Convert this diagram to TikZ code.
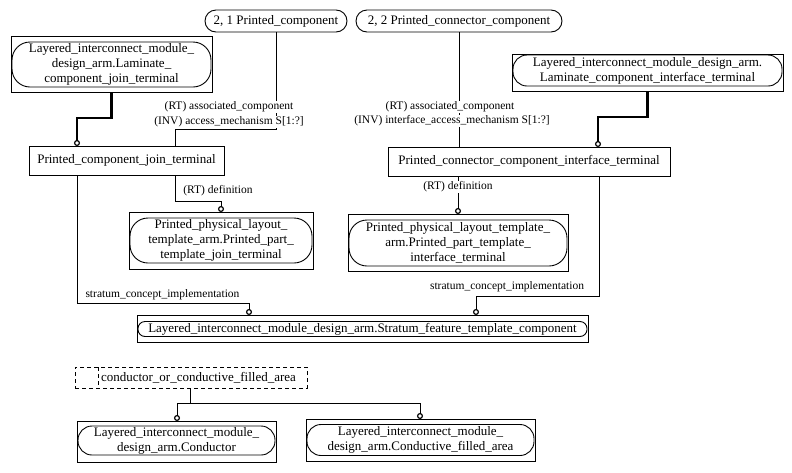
\documentclass[tikz,border=0pt]{standalone}
\usepackage{fontspec}
\setmainfont{Liberation Serif}
\usetikzlibrary{arrows.meta}
\begin{document}
\begin{tikzpicture}[x=1pt,y=-1pt,
  every node/.style={inner sep=0pt, outer sep=0pt},
  outerbox/.style={draw, line width=0.9pt},
  pill/.style={draw, line width=0.9pt, rounded corners=#1, align=center, font=\fontsize{13}{15}\selectfont},
  pill/.default=11pt,
  plainbox/.style={draw, line width=0.9pt, align=center, font=\fontsize{13}{15}\selectfont},
  lbl/.style={fill=white, inner sep=0.5pt, font=\fontsize{11.5}{13}\selectfont},
  conn/.style={line width=0.9pt},
  heavy/.style={line width=2.5pt},
  circ/.style={-{Circle[open,length=6pt,line width=1.2pt]}},
  dashpat/.style={dash pattern=on 4pt off 3pt},
]
\useasboundingbox (0,0) rectangle (792,472);

% top simple pills
\node[pill, minimum width=142, minimum height=22] (pc) at (276,21) {2, 1 Printed\_component};
\node[pill, minimum width=206, minimum height=22] (pcc) at (459,21) {2, 2 Printed\_connector\_component};

% top-left
\node[outerbox, minimum width=201, minimum height=56] (ltl) at (111.5,64) {};
\node[pill=18pt, minimum width=199, minimum height=45] (ltlp) at (111.5,64.5) {Layered\_interconnect\_module\_\\design\_arm.Laminate\_\\component\_join\_terminal};

% top-right
\node[outerbox, minimum width=271, minimum height=37] (ltr) at (647.5,72.5) {};
\node[pill=14pt, minimum width=269, minimum height=31] (ltrp) at (647.5,70.5) {Layered\_interconnect\_module\_design\_arm.\\Laminate\_component\_interface\_terminal};

% middle boxes
\node[plainbox, minimum width=195, minimum height=29] (pcjt) at (126.5,160.5) {Printed\_component\_join\_terminal};
\node[plainbox, minimum width=282, minimum height=29] (pccit) at (529,161.5) {Printed\_connector\_component\_interface\_terminal};

% templates
\node[outerbox, minimum width=184, minimum height=57] (pptj) at (221,240.5) {};
\node[pill=18pt, minimum width=182, minimum height=45] (pptjp) at (221,240.5) {Printed\_physical\_layout\_\\template\_arm.Printed\_part\_\\template\_join\_terminal};
\node[outerbox, minimum width=220, minimum height=57] (ppti) at (458,242.5) {};
\node[pill=18pt, minimum width=218, minimum height=46] (pptip) at (458,243) {Printed\_physical\_layout\_template\_\\arm.Printed\_part\_template\_\\interface\_terminal};

% stratum
\node[outerbox, minimum width=451, minimum height=27] (sf) at (362.5,328.5) {};
\node[pill=7pt, minimum width=449, minimum height=15] (sfp) at (362.5,329) {Layered\_interconnect\_module\_design\_arm.Stratum\_feature\_template\_component};

% select
\node[draw, dashpat, line width=0.9pt, minimum width=232, minimum height=21] (sel) at (191,377.5) {};
\draw[dashpat, line width=0.9pt] (98,0 |- sel.north) -- (98,0 |- sel.south);
\node[font=\fontsize{13}{15}\selectfont, anchor=west] (selt) at (101,377.5) {conductor\_or\_conductive\_filled\_area};

% bottom
\node[outerbox, minimum width=199, minimum height=41] (cond) at (176.5,441.5) {};
\node[pill=14pt, minimum width=197, minimum height=29] (condp) at (176.5,440.5) {Layered\_interconnect\_module\_\\design\_arm.Conductor};
\node[outerbox, minimum width=229, minimum height=42] (cfa) at (420.5,440) {};
\node[pill=14pt, minimum width=227, minimum height=31] (cfap) at (420.5,440) {Layered\_interconnect\_module\_\\design\_arm.Conductive\_filled\_area};

% connectors
\draw[conn] (pc.south) -- (pc.south |- 0,129) -- (175,129) -- (175,0 |- pcjt.north);
\node[lbl] at (229,107) {(RT) associated\_component};
\node[lbl] at (229,122) {(INV) access\_mechanism S[1:?]};

\draw[conn] (pcc.south) -- (pcc.south |- pccit.north);
\node[lbl] at (450,107) {(RT) associated\_component};
\node[lbl] at (452,121) {(INV) interface\_access\_mechanism S[1:?]};

\draw[heavy] (ltl.south) -- (ltl.south |- 0,118) -- (77,118) -- (77,141);
\draw[conn, circ] (77,140) -- (77,0 |- pcjt.north);
\draw[heavy] (ltr.south) -- (ltr.south |- 0,117) -- (598,117) -- (598,142);
\draw[conn, circ] (598,141) -- (598,0 |- pccit.north);

\draw[conn, circ] (175,0 |- pcjt.south) -- (175,201) -- (221,201) -- (pptj.north);
\node[lbl] at (218,191) {(RT) definition};

\draw[conn, circ] (458,0 |- pccit.south) -- (ppti.north);
\node[lbl] at (458,187) {(RT) definition};

\draw[conn, circ] (77,0 |- pcjt.south) -- (77,303) -- (249,303) -- (249,0 |- sf.north);
\node[lbl, anchor=west] at (85,295) {stratum\_concept\_implementation};

\draw[conn, circ] (599,0 |- pccit.south) -- (599,296) -- (476,296) -- (476,0 |- sf.north);
\node[lbl] at (507,287) {stratum\_concept\_implementation};

\draw[conn] (190,0 |- sel.south) -- (190,403);
\draw[conn, circ] (190,403) -- (177,403) -- (177,0 |- cond.north);
\draw[conn, circ] (190,403) -- (420,403) -- (420,0 |- cfa.north);
\end{tikzpicture}
\end{document}
